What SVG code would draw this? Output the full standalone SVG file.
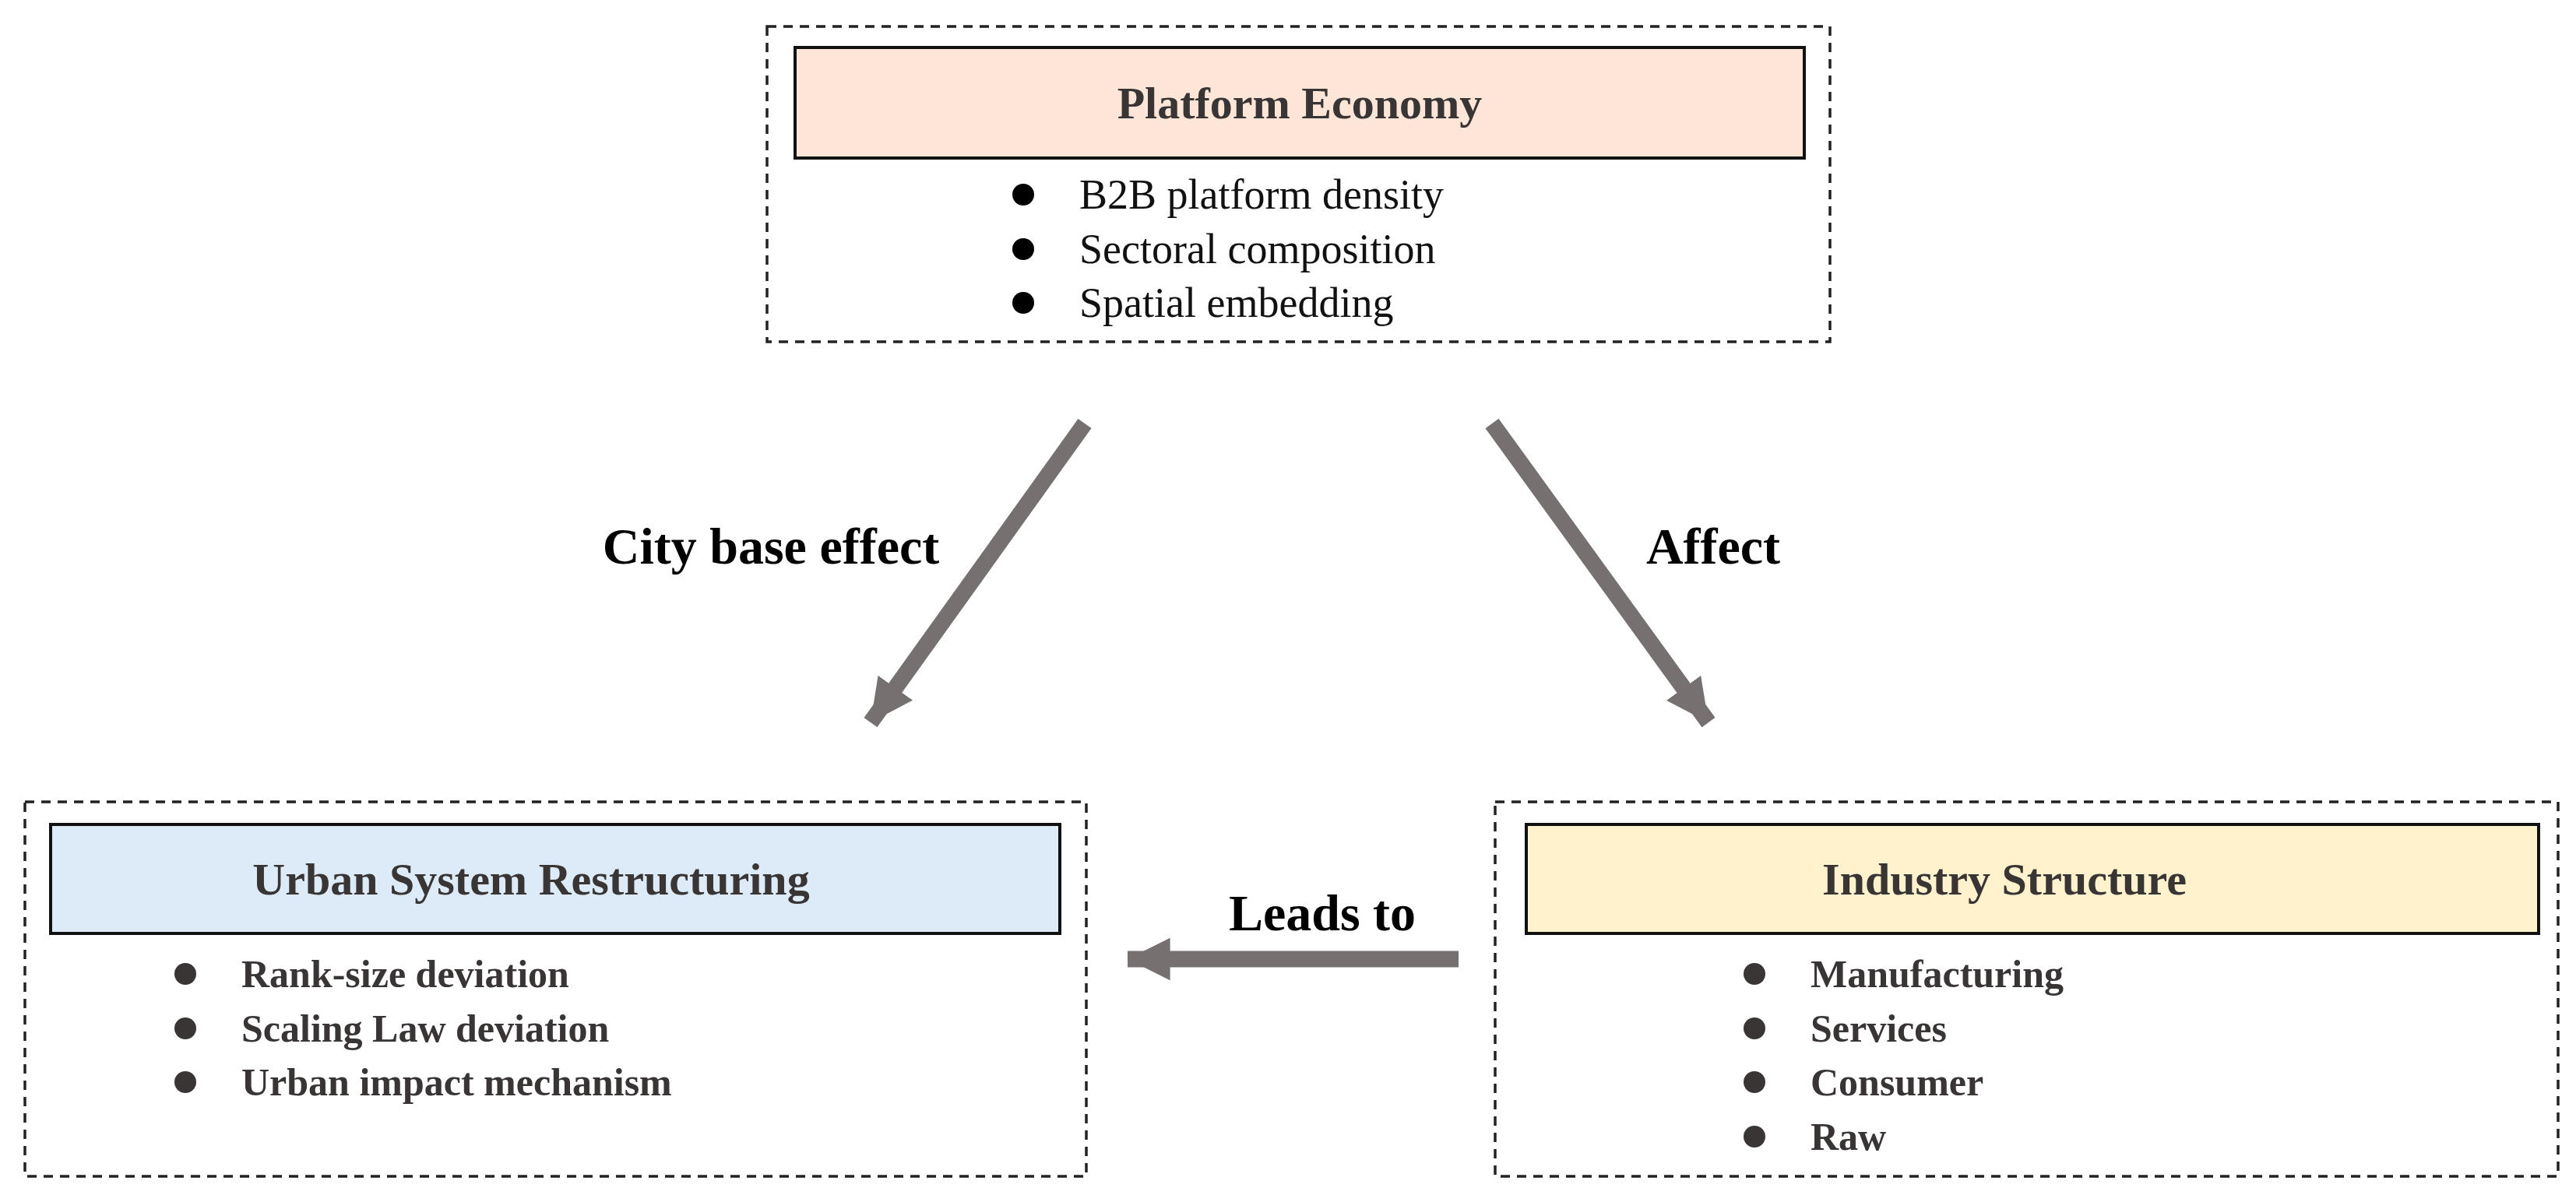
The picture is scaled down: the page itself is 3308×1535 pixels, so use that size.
<svg xmlns="http://www.w3.org/2000/svg" width="3308" height="1535" viewBox="0 0 3308 1535">
<style>
.outer{fill:#fff;stroke:#222;stroke-width:3.5;stroke-dasharray:12 9}
.inner{stroke:#111;stroke-width:4}
.title{font-family:"Liberation Serif",serif;font-weight:bold;font-size:58px;fill:#3a3535;text-anchor:middle}
.item{font-family:"Liberation Serif",serif;font-size:54px;fill:#111}
.itemb{font-family:"Liberation Serif",serif;font-weight:bold;font-size:50px;fill:#3a3535}
.lbl{font-family:"Liberation Serif",serif;font-weight:bold;font-size:66px;fill:#000;text-anchor:middle}
.conn{stroke:#767070;stroke-width:21;fill:none}
</style>
<defs>
<marker id="ah" viewBox="0 0 10 10" refX="10" refY="5" markerWidth="2.6" markerHeight="2.6" orient="auto" markerUnits="strokeWidth">
<path d="M0,0 L10,5 L0,10 Z" fill="#767070"/>
</marker>
</defs>
<rect width="3308" height="1535" fill="#fff"/>
<g id="platform">
<rect class="outer" x="985" y="34" width="1365" height="405"/>
<rect class="inner" x="1021" y="61" width="1296" height="142" fill="#fde5d8"/>
<text class="title" x="1669" y="152">Platform Economy</text>
<circle cx="1314" cy="250" r="14" fill="#000"/><text class="item" x="1386" y="268">B2B platform density</text>
<circle cx="1314" cy="320" r="14" fill="#000"/><text class="item" x="1386" y="338">Sectoral composition</text>
<circle cx="1314" cy="389" r="14" fill="#000"/><text class="item" x="1386" y="407">Spatial embedding</text>
</g>
<g id="urban">
<rect class="outer" x="32" y="1030" width="1363" height="481"/>
<rect class="inner" x="65" y="1059" width="1296" height="140" fill="#dcebf7"/>
<text class="title" x="682" y="1149">Urban System Restructuring</text>
<circle cx="238" cy="1251" r="14" fill="#3a3535"/><text class="itemb" x="310" y="1268">Rank-size deviation</text>
<circle cx="238" cy="1321" r="14" fill="#3a3535"/><text class="itemb" x="310" y="1338">Scaling Law deviation</text>
<circle cx="238" cy="1390" r="14" fill="#3a3535"/><text class="itemb" x="310" y="1407">Urban impact mechanism</text>
</g>
<g id="industry">
<rect class="outer" x="1920" y="1030" width="1365" height="481"/>
<rect class="inner" x="1960" y="1059" width="1300" height="140" fill="#fff2cc"/>
<text class="title" x="2574" y="1149">Industry Structure</text>
<circle cx="2253" cy="1251" r="14" fill="#3a3535"/><text class="itemb" x="2325" y="1268">Manufacturing</text>
<circle cx="2253" cy="1321" r="14" fill="#3a3535"/><text class="itemb" x="2325" y="1338">Services</text>
<circle cx="2253" cy="1390" r="14" fill="#3a3535"/><text class="itemb" x="2325" y="1407">Consumer</text>
<circle cx="2253" cy="1460" r="14" fill="#3a3535"/><text class="itemb" x="2325" y="1477">Raw</text>
</g>
<g id="connectors">
<line class="conn" x1="1393" y1="544" x2="1118" y2="928" marker-end="url(#ah)"/>
<line class="conn" x1="1916" y1="544" x2="2194" y2="928" marker-end="url(#ah)"/>
<line class="conn" x1="1873" y1="1232" x2="1448" y2="1232" marker-end="url(#ah)"/>
<text class="lbl" x="990" y="724">City base effect</text>
<text class="lbl" x="2200" y="724">Affect</text>
<text class="lbl" x="1698" y="1195">Leads to</text>
</g>
</svg>
